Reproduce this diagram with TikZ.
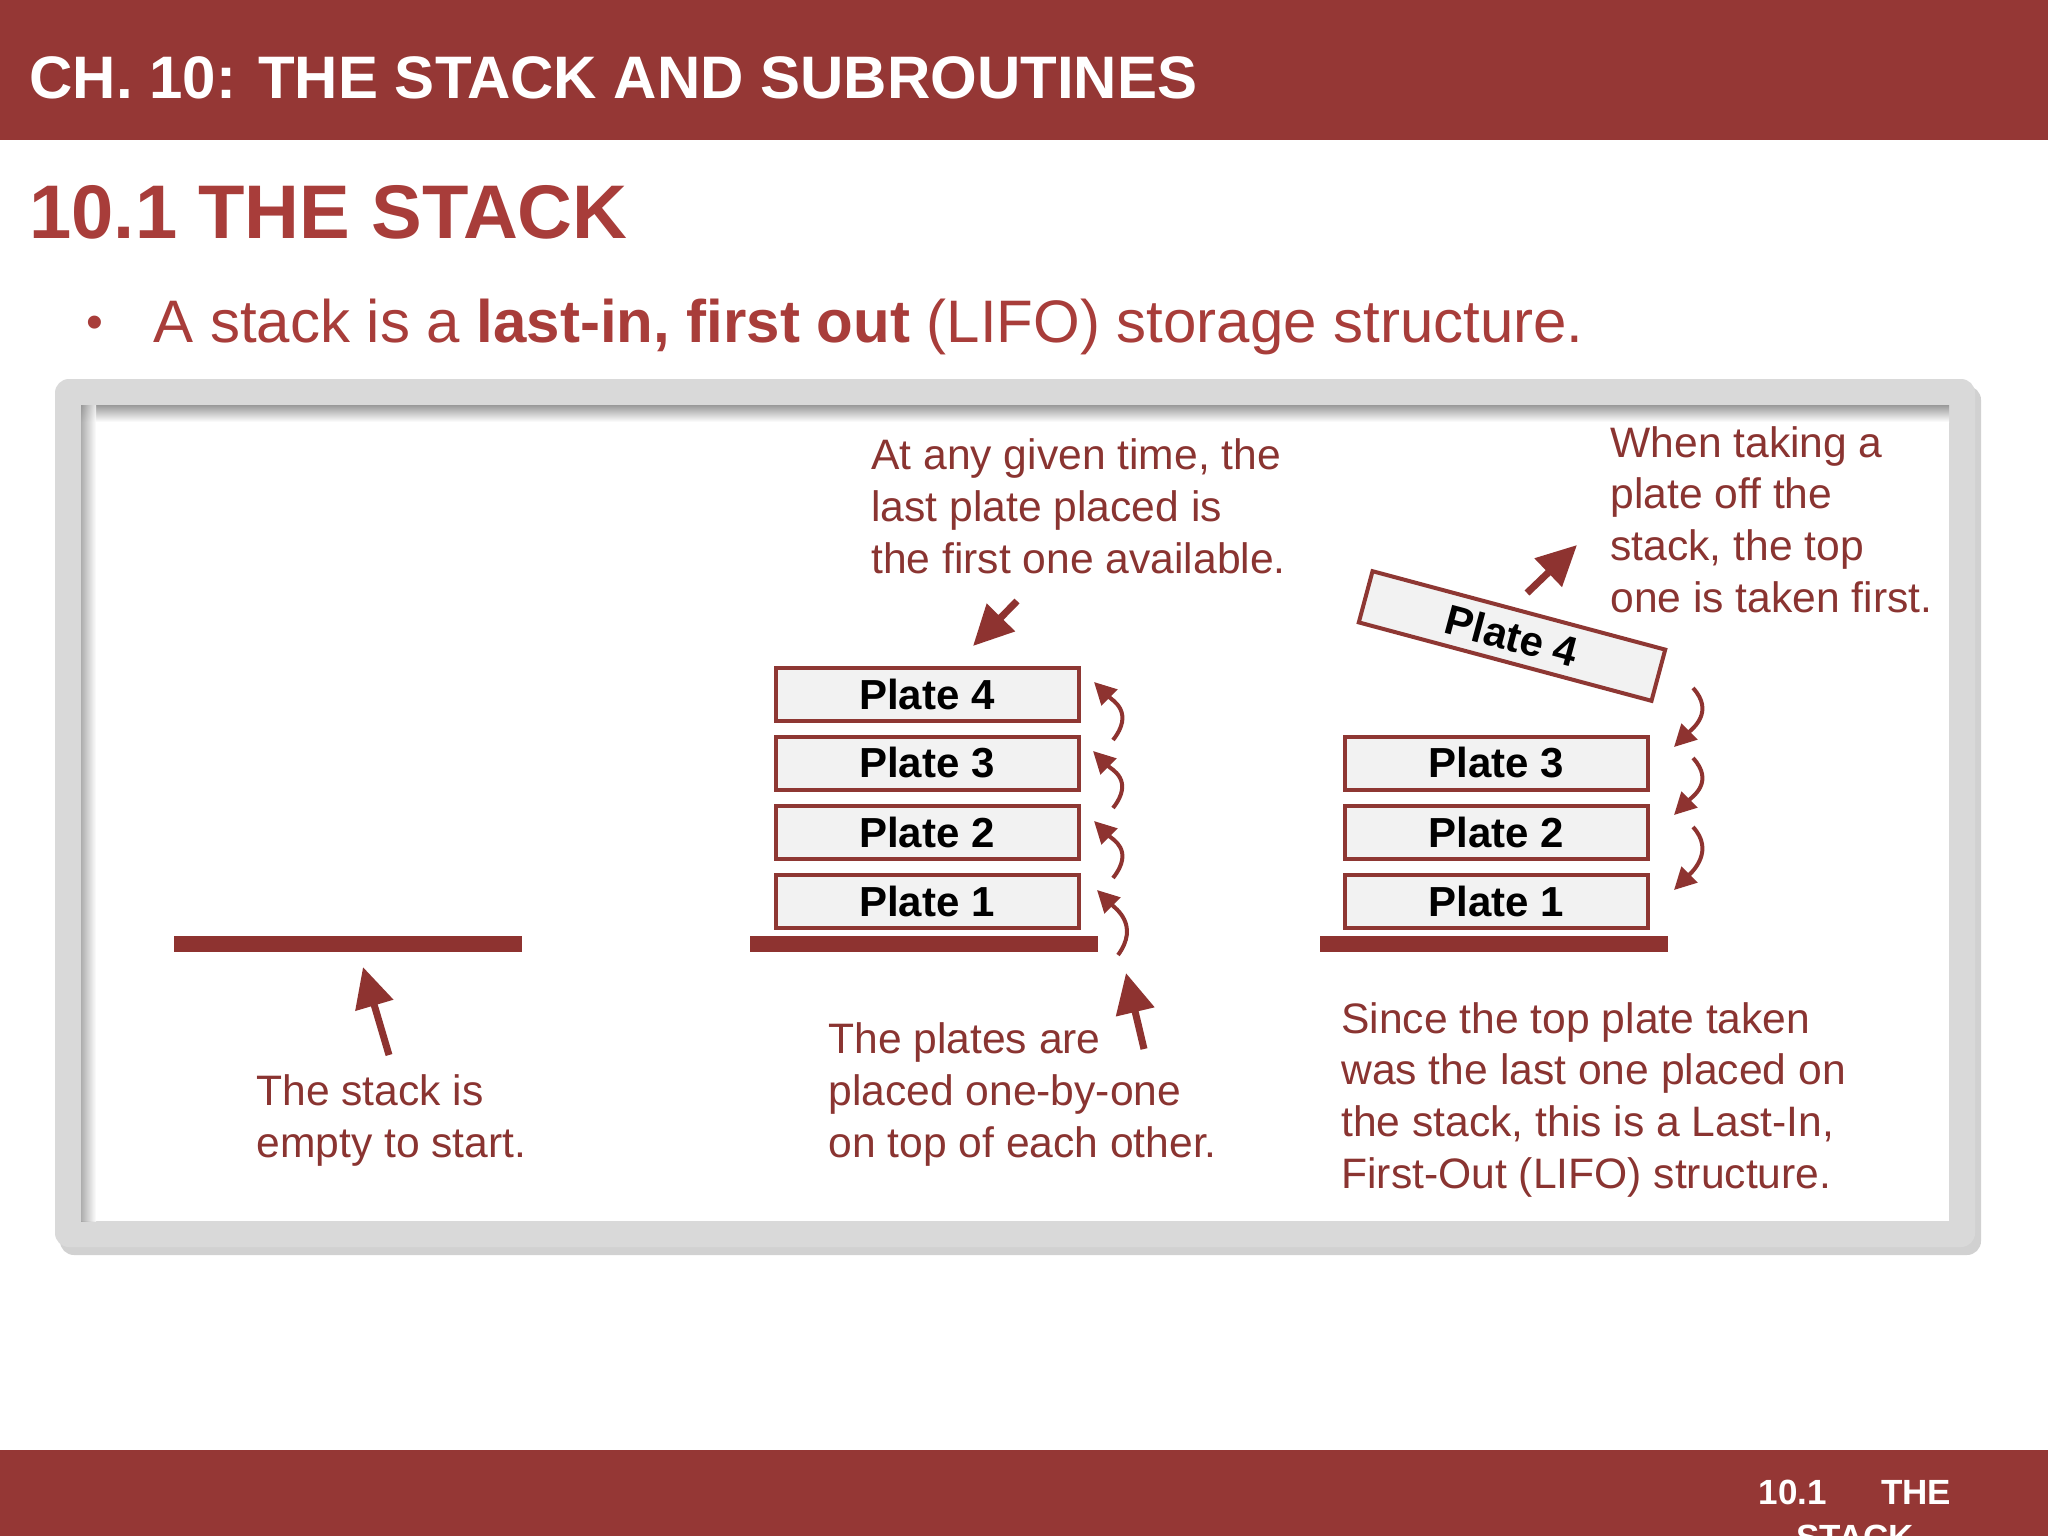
\documentclass[tikz,border=0pt]{standalone}
\usepackage{fontspec}
\setmainfont{Liberation Sans}
\usetikzlibrary{arrows.meta}
\definecolor{hdr}{HTML}{953735}
\definecolor{ttl}{HTML}{A83D3A}
\definecolor{dtx}{HTML}{8A3431}
\definecolor{arr}{HTML}{8E3330}
\definecolor{pbd}{HTML}{8E3733}
\definecolor{pfill}{HTML}{F2F2F2}
\definecolor{frm}{HTML}{D9D9D9}
\begin{document}
\begin{tikzpicture}[x=0.5pt,y=-0.5pt,
  plate/.style={draw=pbd,line width=2pt,fill=pfill,minimum width=151.5pt,minimum height=26.5pt,inner sep=0pt,font=\fontsize{21}{21}\selectfont\bfseries},
  bar/.style={fill=arr,inner sep=0pt,minimum height=8pt,minimum width=174pt},
  note/.style={text=dtx,align=left,anchor=base west,inner sep=0pt,font=\fontsize{21.3}{25.8}\selectfont},
  bigarrow/.style={draw=arr,line width=3.5pt,-{Triangle[length=20pt,width=19pt]}},
  curl/.style={draw=arr,line width=2pt,-{Triangle[length=11pt,width=11pt]}},
  hdrtext/.style={text=white,inner sep=0pt,font=\bfseries},
]
\useasboundingbox (0,0) rectangle (2048,1536);
\fill[white] (0,0) rectangle (2048,1536);

% header
\fill[hdr] (0,0) rectangle (2048,140);
\node[hdrtext,anchor=base west,font=\fontsize{30}{30}\selectfont\bfseries] (hdr) at (29,98) {CH. 10: THE STACK AND SUBROUTINES};

% title and bullet
\node[text=ttl,inner sep=0pt,anchor=base west,font=\fontsize{38}{38}\selectfont\bfseries] (title) at (29,238) {10.1 THE STACK};
\node[text=ttl,inner sep=0pt,anchor=base west,font=\fontsize{24}{24}\selectfont] (bul) at (86,338) {•};
\node[text=ttl,inner sep=0pt,anchor=base west,font=\fontsize{30}{30}\selectfont] (btext) at (153,342) {A stack is a \textbf{last-in, first out} (LIFO) storage structure.};

% frame
\fill[black,opacity=0.18,rounded corners=7pt] (60,386) rectangle (1981,1255);
\fill[frm,rounded corners=7pt] (55,379) rectangle (1975,1247);
\fill[white] (81,405) rectangle (1949,1221);
\shade[top color=black!40,bottom color=white] (81,405) rectangle (1949,422);
\shade[left color=black!40,right color=white,opacity=0.8] (81,405) rectangle (96,1221);

% left stack
\node[bar] (bar1) at (348,944) {};
\coordinate (a1s) at (389,1055);
\coordinate (a1e) at (363,967);
\draw[bigarrow] (a1s) -- (a1e);
\node[note] (n1) at (256,1157) {The stack is\\empty to start.};

% middle stack
\node[bar] (bar2) at (924,944) {};
\node[plate] (m1) at (927,901) {Plate 1};
\node[plate] (m2) at (927,832) {Plate 2};
\node[plate] (m3) at (927,763) {Plate 3};
\node[plate] (m4) at (927,694) {Plate 4};
\coordinate (a2s) at (1017,601);
\coordinate (a2e) at (973,646);
\draw[bigarrow] (a2s) -- (a2e);
\coordinate (a3s) at (1144,1049);
\coordinate (a3e) at (1126,973);
\draw[bigarrow] (a3s) -- (a3e);
\node[note] (n2) at (871,573) {At any given time, the\\last plate placed is\\the first one available.};
\node[note] (n3) at (828,1157) {The plates are\\placed one-by-one\\on top of each other.};

\coordinate (c1s) at (1118,955); \coordinate (c1t) at (1097,890);
\coordinate (c2s) at (1113,878); \coordinate (c2t) at (1094,821);
\coordinate (c3s) at (1113,808); \coordinate (c3t) at (1093,751);
\coordinate (c4s) at (1113,740); \coordinate (c4t) at (1094,682);
\draw[curl] (c1s) .. controls +(22,-30) and +(18,18) .. (c1t);
\draw[curl] (c2s) .. controls +(22,-28) and +(18,18) .. (c2t);
\draw[curl] (c3s) .. controls +(22,-28) and +(18,18) .. (c3t);
\draw[curl] (c4s) .. controls +(22,-28) and +(18,18) .. (c4t);

% right stack
\node[bar] (bar3) at (1494,944) {};
\node[plate] (r1) at (1496,901) {Plate 1};
\node[plate] (r2) at (1496,832) {Plate 2};
\node[plate] (r3) at (1496,763) {Plate 3};
\node[plate,rotate=-15] (r4) at (1512,636) {Plate 4};
\coordinate (a4s) at (1527,593);
\coordinate (a4e) at (1577,545);
\draw[bigarrow] (a4s) -- (a4e);
\node[note] (n4) at (1610,612) {When taking a\\plate off the\\stack, the top\\one is taken first.};
\node[note] (n5) at (1341,1188) {Since the top plate taken\\was the last one placed on\\the stack, this is a Last-In,\\First-Out (LIFO) structure.};

\coordinate (d1s) at (1693,688); \coordinate (d1t) at (1674,747);
\coordinate (d2s) at (1693,758); \coordinate (d2t) at (1674,815);
\coordinate (d3s) at (1693,827); \coordinate (d3t) at (1674,890);
\draw[curl] (d1s) .. controls +(22,24) and +(18,-18) .. (d1t);
\draw[curl] (d2s) .. controls +(22,24) and +(18,-18) .. (d2t);
\draw[curl] (d3s) .. controls +(22,24) and +(18,-18) .. (d3t);

% footer
\fill[hdr] (0,1450) rectangle (2048,1536);
\begin{scope}
\clip (0,1450) rectangle (2048,1536);
\node[hdrtext,anchor=base,font=\fontsize{17.5}{17.5}\selectfont\bfseries] (ft1) at (1855,1504) {10.1\hspace{27pt}THE};
\node[hdrtext,anchor=base,font=\fontsize{17.5}{17.5}\selectfont\bfseries] (ft2) at (1855,1549) {STACK};
\end{scope}
\end{tikzpicture}
\end{document}
